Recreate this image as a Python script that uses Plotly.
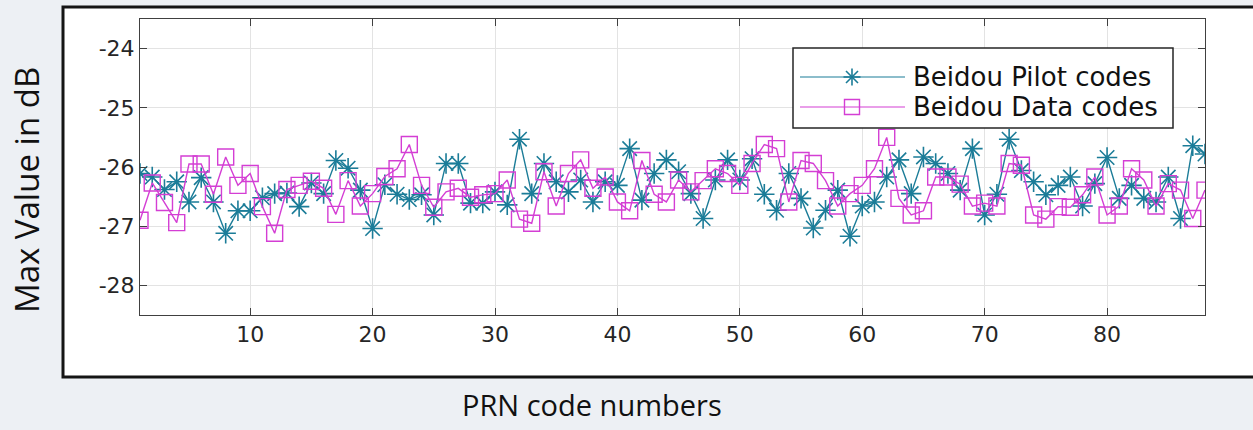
import plotly.graph_objects as go

# PRN numbers 1..88 and peak correlation values (dB) for each code family
prn = list(range(1, 89))

pilot_db = [
    -26.11, -26.17, -26.38, -26.25, -26.59, -26.18, -26.59, -27.12, -26.74, -26.74,
    -26.52, -26.45, -26.44, -26.67, -26.27, -26.45, -25.89, -26.02, -26.39, -27.04,
    -26.30, -26.46, -26.55, -26.47, -26.81, -25.94, -25.94, -26.61, -26.61, -26.42,
    -26.64, -25.53, -26.45, -25.94, -26.25, -26.42, -26.22, -26.59, -26.25, -26.31,
    -25.69, -26.56, -26.11, -25.88, -26.08, -26.45, -26.87, -26.22, -25.88, -26.22,
    -25.86, -26.46, -26.73, -26.11, -26.53, -27.03, -26.73, -26.39, -27.17, -26.66,
    -26.59, -26.17, -25.88, -26.45, -25.83, -25.94, -26.11, -26.39, -25.69, -26.81,
    -26.46, -25.53, -26.06, -26.25, -26.47, -26.31, -26.17, -26.66, -26.28, -25.84,
    -26.53, -26.31, -26.53, -26.59, -26.17, -26.87, -25.64, -25.78,
]

data_db = [
    -26.90, -26.27, -26.60, -26.94, -25.95, -25.95, -26.46, -25.83, -26.31, -26.11,
    -26.67, -27.12, -26.38, -26.31, -26.24, -26.36, -26.80, -26.23, -26.66, -26.45,
    -26.16, -26.03, -25.62, -26.31, -26.68, -26.42, -26.36, -26.51, -26.47, -26.45,
    -26.22, -26.88, -26.95, -26.08, -26.66, -26.11, -25.88, -26.36, -26.17, -26.59,
    -26.74, -25.89, -26.46, -26.59, -26.22, -26.42, -26.23, -26.03, -26.11, -26.31,
    -25.94, -25.62, -25.69, -26.59, -25.89, -25.94, -26.23, -26.66, -26.45, -26.31,
    -26.03, -25.50, -26.53, -26.81, -26.74, -26.17, -26.17, -26.29, -26.66, -26.61,
    -26.66, -25.94, -25.97, -26.81, -26.88, -26.67, -26.68, -26.47, -26.17, -26.81,
    -26.66, -26.03, -26.22, -26.66, -26.28, -26.39, -26.87, -26.39,
]

series_names = ["Beidou Pilot codes", "Beidou Data codes"]
y_ticks = [-28, -27, -26, -25, -24]
y_tick_text = ["-28", "-27", "-26", "-25", "-24"]
x_ticks = [10, 20, 30, 40, 50, 60, 70, 80]

PILOT_COLOR = "#1b7c98"
DATA_COLOR = "#d43ed4"
SANS = "DejaVu Sans, Arial, sans-serif"
TICK_FONT = dict(family=SANS, size=22, color="#262626")
LABEL_FONT = "Open Sans, Calibri, sans-serif"

W, H = 1253, 430
L, R, T, B = 140, 48, 19, 115
PW, PH = W - L - R, H - T - B


def px_to_paper(px, py):
    return (px - L) / PW, 1 - (py - T) / PH


def paper_path(points, closed=False):
    """SVG path in paper coordinates from a list of pixel points."""
    parts = []
    for k, (px, py) in enumerate(points):
        x, y = px_to_paper(px, py)
        parts.append(("M" if k == 0 else "L") + f"{x:.5f},{y:.5f}")
    return " ".join(parts) + (" Z" if closed else "")


fig = go.Figure()

fig.add_trace(go.Scatter(
    x=prn, y=pilot_db, name=series_names[0], mode="lines+markers",
    line=dict(color=PILOT_COLOR, width=1.4),
    marker=dict(symbol="asterisk-open", size=17, color=PILOT_COLOR,
                line=dict(color=PILOT_COLOR, width=1.6)),
    showlegend=False,
))
fig.add_trace(go.Scatter(
    x=prn, y=data_db, name=series_names[1], mode="lines+markers",
    line=dict(color=DATA_COLOR, width=1.4),
    marker=dict(symbol="square-open", size=16, color=DATA_COLOR,
                line=dict(color=DATA_COLOR, width=1.4)),
    showlegend=False,
))

# outer white panel with black frame
fx0, fy0 = px_to_paper(63, 377)
fx1, fy1 = px_to_paper(1262, 7)
shapes = [dict(type="rect", xref="paper", yref="paper", x0=fx0, y0=fy0, x1=fx1, y1=fy1,
               fillcolor="white", line=dict(color="#151515", width=3), layer="below")]

# legend: white box, sample line with centre glyph, label
lx0, ly0 = px_to_paper(793, 128)
lx1, ly1 = px_to_paper(1173, 48)
shapes.append(dict(type="rect", xref="paper", yref="paper", x0=lx0, y0=ly0, x1=lx1, y1=ly1,
                   fillcolor="white", line=dict(color="#262626", width=1.5), layer="above"))

annotations = []
legend_rows = [(77, PILOT_COLOR, "asterisk"), (107, DATA_COLOR, "square")]
cx = 852
for (row_y, color, glyph), name in zip(legend_rows, series_names):
    shapes.append(dict(type="path", xref="paper", yref="paper",
                       path=paper_path([(800, row_y), (905, row_y)]),
                       line=dict(color=color, width=1.2), layer="above"))
    if glyph == "square":
        h = 7.5
        shapes.append(dict(type="path", xref="paper", yref="paper",
                           path=paper_path([(cx - h, row_y - h), (cx + h, row_y - h),
                                            (cx + h, row_y + h), (cx - h, row_y + h)],
                                           closed=True),
                           fillcolor="rgba(0,0,0,0)", line=dict(color=color, width=1.4),
                           layer="above"))
    else:
        r, d = 8.5, 6.0
        arms = [((cx - r, row_y), (cx + r, row_y)), ((cx, row_y - r), (cx, row_y + r)),
                ((cx - d, row_y - d), (cx + d, row_y + d)),
                ((cx - d, row_y + d), (cx + d, row_y - d))]
        for p0, p1 in arms:
            shapes.append(dict(type="path", xref="paper", yref="paper",
                               path=paper_path([p0, p1]),
                               line=dict(color=color, width=1.6), layer="above"))
    tx, ty = px_to_paper(911, row_y)
    annotations.append(dict(xref="paper", yref="paper", x=tx, y=ty, text=name, showarrow=False,
                            xanchor="left", yanchor="middle",
                            font=dict(family=SANS, size=26, color="#111111")))

# axis titles
ax, ay = px_to_paper(26, 190)
annotations.append(dict(xref="paper", yref="paper", x=ax, y=ay, text="Max Value in dB",
                        showarrow=False, textangle=-90, xanchor="center", yanchor="middle",
                        font=dict(family=LABEL_FONT, size=33, color="#111111")))
bx, by = px_to_paper(592, 404)
annotations.append(dict(xref="paper", yref="paper", x=bx, y=by, text="PRN code numbers",
                        showarrow=False, xanchor="center", yanchor="middle",
                        font=dict(family=LABEL_FONT, size=29, color="#111111")))

axis_common = dict(showline=True, linecolor="#404040", linewidth=1, mirror="ticks",
                   ticks="inside", ticklen=7, tickcolor="#404040", tickwidth=1,
                   showgrid=True, gridcolor="#e3e3e3", gridwidth=1, zeroline=False,
                   tickfont=TICK_FONT)

fig.update_layout(
    width=W, height=H,
    margin=dict(l=L, r=R, t=T, b=B),
    paper_bgcolor="#edf0f4", plot_bgcolor="white",
    xaxis=dict(range=[1, 88], tickvals=x_ticks, **axis_common),
    yaxis=dict(range=[-28.5, -23.5], tickvals=y_ticks, ticktext=y_tick_text, **axis_common),
    shapes=shapes, annotations=annotations,
    showlegend=False,
)

fig.write_html("out.html")
